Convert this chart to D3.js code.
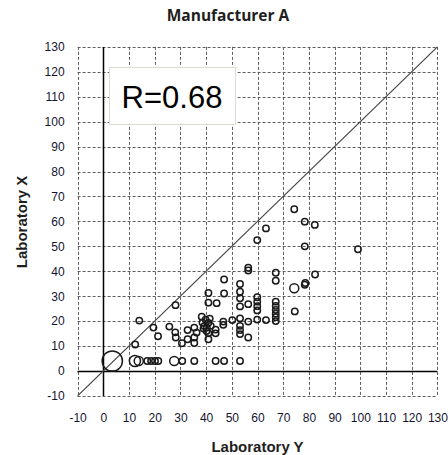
<!DOCTYPE html>
<html>
<head>
<meta charset="utf-8">
<script src="https://cdn.jsdelivr.net/npm/d3@7"></script>
<style>
  html, body { margin: 0; padding: 0; background: #fff; }
  svg { display: block; }
</style>
</head>
<body>
<svg id="chart" width="448" height="455"></svg>
<script>
// Paired results: Laboratory Y (horizontal) vs Laboratory X (vertical)
const labY = [3.5, 12.3, 13.8, 17.1, 18.6, 20.1, 21.4, 27.6, 30.7, 35.4, 43.7, 47.0, 53.2,
  12.4, 14.0, 19.5, 21.3, 25.7, 28.1, 28.0, 28.2, 30.6, 32.8, 32.8, 35.4, 35.4, 35.4, 36.3,
  38.3, 38.6, 39.3, 39.8, 40.3, 40.9, 41.4, 41.8, 40.2, 39.0, 40.9, 40.9, 43.7, 43.7, 46.7, 46.7, 50.2,
  40.9, 40.9, 44.1, 47.0, 47.0, 53.2, 53.2, 53.2, 53.2, 56.4, 59.9, 59.9, 59.9, 59.9,
  53.2, 53.2, 53.2, 53.2, 56.4, 56.4, 59.9, 63.3,
  67.1, 67.1, 67.1, 67.1, 67.1, 67.1, 67.1, 67.1,
  74.3, 78.4, 78.6, 74.5, 56.4, 56.4, 59.9, 63.3, 74.3, 78.4, 82.3, 78.4, 99.1, 82.4];
const labX = [4, 4, 4, 4, 4, 4, 4, 4, 4, 4, 4, 4, 4,
  10.6, 20.2, 17.4, 13.9, 17.8, 26.4, 15.5, 13.4, 11.1, 16.4, 12.7, 17.4, 13.4, 11.2, 15.4,
  21.8, 19.4, 18.0, 20.6, 17.4, 19.3, 21.0, 18.1, 16.0, 17.0, 15.1, 12.7, 15.1, 16.6, 18.5, 19.8, 20.4,
  31.3, 27.4, 27.2, 36.7, 31.1, 34.9, 31.8, 29.2, 25.9, 26.8, 29.6, 27.8, 26.0, 24.3,
  21.1, 18.1, 16.4, 14.8, 19.8, 13.4, 20.6, 20.4,
  36.2, 39.4, 27.8, 26.1, 24.5, 23.0, 21.6, 20.0,
  33.2, 34.6, 35.3, 23.9, 41.4, 40.3, 52.5, 57.2, 64.9, 59.9, 58.6, 50.0, 48.8, 38.7];
// number of coinciding results at each point (sets the circle size)
const counts = [10, 3, 2, 1, 1, 1, 1, 2, 1, 1, 1, 1, 1,
  1, 1, 1, 1, 1, 1, 1, 1, 1, 1, 1, 1, 1, 1, 1,
  1, 1, 1, 1, 1, 1, 1, 1, 1, 1, 1, 1, 1, 1, 1, 1, 1,
  1, 1, 1, 1, 1, 1, 1, 1, 1, 1, 1, 1, 1, 1,
  1, 1, 1, 1, 1, 1, 1, 1,
  1, 1, 1, 1, 1, 1, 1, 1,
  2, 1, 1, 1, 1, 1, 1, 1, 1, 1, 1, 1, 1, 1];
const tickValues = [-10, 0, 10, 20, 30, 40, 50, 60, 70, 80, 90, 100, 110, 120, 130];
const chartTitle = "Manufacturer A";
const xTitle = "Laboratory Y";
const yTitle = "Laboratory X";
const rLabel = "R=0.68";

const points = labY.map((v, i) => ({ x: v, y: labX[i], n: counts[i] }));

const svg = d3.select("#chart");
const x = d3.scaleLinear().domain([-10, 130]).range([77.6, 437.4]);
const y = d3.scaleLinear().domain([-10, 130]).range([395.9, 46.9]);
const r = d3.scaleSqrt().domain([0, 1]).range([0, 3.2]);

const tickFont = "'Liberation Sans', Arial, sans-serif";
const tickColor = "#14142e";

// dashed grid, including the outer frame
const grid = svg.append("g").attr("stroke", "#5e5e5e").attr("stroke-width", 1)
  .attr("stroke-dasharray", "3,2").attr("fill", "none");
grid.selectAll("line.v").data(tickValues).join("line").attr("class", "v")
  .attr("x1", d => Math.round(x(d)) + 0.5).attr("x2", d => Math.round(x(d)) + 0.5)
  .attr("y1", y(130)).attr("y2", y(-10));
grid.selectAll("line.h").data(tickValues).join("line").attr("class", "h")
  .attr("y1", d => Math.round(y(d)) + 0.5).attr("y2", d => Math.round(y(d)) + 0.5)
  .attr("x1", x(-10)).attr("x2", x(130));

// zero axes
svg.append("line").attr("x1", x(-10)).attr("x2", x(130))
  .attr("y1", Math.round(y(0)) + 0.5).attr("y2", Math.round(y(0)) + 0.5)
  .attr("stroke", "#000").attr("stroke-width", 1.5);
svg.append("line").attr("y1", y(-10)).attr("y2", y(130))
  .attr("x1", Math.round(x(0)) + 0.5).attr("x2", Math.round(x(0)) + 0.5)
  .attr("stroke", "#000").attr("stroke-width", 1.5);

// line of identity
svg.append("line").attr("x1", x(-10)).attr("y1", y(-10)).attr("x2", x(130)).attr("y2", y(130))
  .attr("stroke", "#444").attr("stroke-width", 1.2);

// tick labels via d3 axes (axis lines and tick marks hidden)
const fmt = d => String(d);
const xAxis = svg.append("g").attr("transform", `translate(0,${y(-10)})`)
  .call(d3.axisBottom(x).tickValues(tickValues).tickFormat(fmt).tickSize(0).tickPadding(18));
const yAxis = svg.append("g").attr("transform", `translate(${x(-10)},0)`)
  .call(d3.axisLeft(y).tickValues(tickValues).tickFormat(fmt).tickSize(0).tickPadding(13));
[xAxis, yAxis].forEach(a => {
  a.select(".domain").remove();
  a.selectAll("text").attr("fill", tickColor).style("font-family", tickFont)
    .style("font-size", "12px");
});

// circles
svg.append("g").selectAll("circle").data(points).join("circle")
  .attr("cx", d => x(d.x)).attr("cy", d => y(d.y)).attr("r", d => r(d.n))
  .attr("fill", "none").attr("stroke", "#1a1a1a").attr("stroke-width", 1.5);

// correlation box
const box = svg.append("g");
box.append("rect").attr("x", 109.5).attr("y", 67.5).attr("width", 126).attr("height", 57)
  .attr("fill", "#fff").attr("stroke", "#dcdcd2").attr("stroke-width", 1);
box.append("text").attr("x", 172).attr("y", 108).attr("text-anchor", "middle")
  .style("font-family", "'Liberation Sans Narrow', 'Liberation Sans', Arial, sans-serif")
  .style("font-size", "31px").attr("fill", "#000").text(rLabel);

// titles
svg.append("text").attr("x", 228).attr("y", 21).attr("text-anchor", "middle")
  .style("font-family", "'Open Sans', sans-serif").style("font-weight", "bold")
  .style("font-size", "15.5px").attr("fill", "#1e1e1e").text(chartTitle);
svg.append("text").attr("x", 257.5).attr("y", 452).attr("text-anchor", "middle")
  .style("font-family", "'Liberation Sans', Arial, sans-serif").style("font-weight", "bold")
  .style("font-size", "15px").attr("fill", "#1e1e1e").text(xTitle);
svg.append("text").attr("transform", "translate(27,222) rotate(-90)").attr("text-anchor", "middle")
  .style("font-family", "'Liberation Sans', Arial, sans-serif").style("font-weight", "bold")
  .style("font-size", "15px").attr("fill", "#1e1e1e").text(yTitle);
</script>
</body>
</html>
